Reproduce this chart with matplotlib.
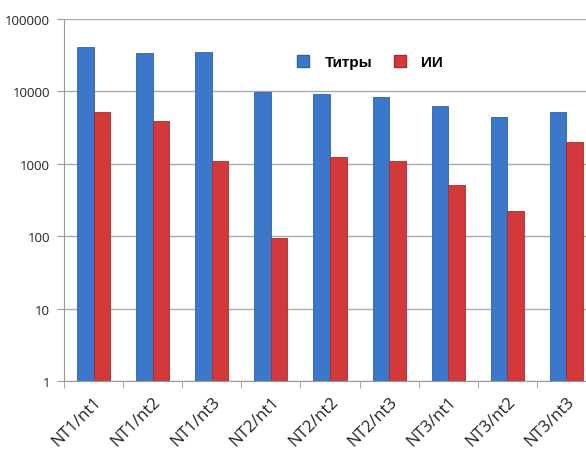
import matplotlib
matplotlib.use("Agg")
import matplotlib.pyplot as plt
import matplotlib.patches as mpatches
import numpy as np

categories = ["NT1/nt1", "NT1/nt2", "NT1/nt3", "NT2/nt1", "NT2/nt2",
              "NT2/nt3", "NT3/nt1", "NT3/nt2", "NT3/nt3"]
titers = [41400, 33600, 34700, 9900, 9300, 8300, 6230, 4470, 5250]
ii = [5250, 3940, 1090, 93, 1250, 1100, 514, 221, 1980]

blue = "#3b78cc"
red = "#d2393a"

plt.rcParams['font.family'] = ['Open Sans', 'DejaVu Sans']

fig = plt.figure(figsize=(5.86, 4.52), dpi=100)
ax = fig.add_axes([64 / 586, 70 / 452, 532 / 586, 362 / 452])

x = np.arange(len(categories))
w = 0.28
ax.bar(x - w / 2, np.array(titers) - 1, w, color=blue, edgecolor="#2f62a8", linewidth=0.6,
       bottom=1, zorder=3)
ax.bar(x + w / 2, np.array(ii) - 1, w, color=red, edgecolor="#a92c2c", linewidth=0.6,
       bottom=1, zorder=3)

ax.set_yscale("log")
ax.set_ylim(1, 100000)
ax.set_xlim(-0.5, len(categories) - 0.5)
ax.set_yticks([1, 10, 100, 1000, 10000, 100000])
ax.set_yticklabels(["1", "10", "100", "1000", "10000", "100000"])
ax.yaxis.set_minor_locator(matplotlib.ticker.NullLocator())
ax.grid(axis="y", color="#ababab", linewidth=1.0, zorder=0)

ax.set_xticks(x)
ax.set_xticklabels(categories, rotation=45, ha="right", rotation_mode="anchor",
                   fontsize=12, color="#222222")
ax.set_xticks(np.arange(-0.5, len(categories) + 0.5, 1), minor=True)
ax.tick_params(axis="x", which="major", length=0, pad=9)
ax.tick_params(axis="x", which="minor", length=5, color="#9a9a9a")
ax.tick_params(axis="y", length=5, color="#9a9a9a", labelsize=9.5, labelcolor="#222222", pad=5)

for side in ["top", "right"]:
    ax.spines[side].set_visible(False)
for side in ["left", "bottom"]:
    ax.spines[side].set_color("#9a9a9a")

handles = [mpatches.Patch(facecolor=blue, edgecolor="#2f62a8", label="Титры"),
           mpatches.Patch(facecolor=red, edgecolor="#a92c2c", label="ИИ")]
fig.legend(handles=handles, loc="center", bbox_to_anchor=(370 / 586, 1 - 63 / 452),
           ncol=2, frameon=False, handlelength=0.8, handleheight=0.8,
           handletextpad=1.0, columnspacing=1.4,
           prop={"family": ["Liberation Sans", "DejaVu Sans"], "weight": "bold", "size": 11})

fig.savefig("out.png", dpi=100)
